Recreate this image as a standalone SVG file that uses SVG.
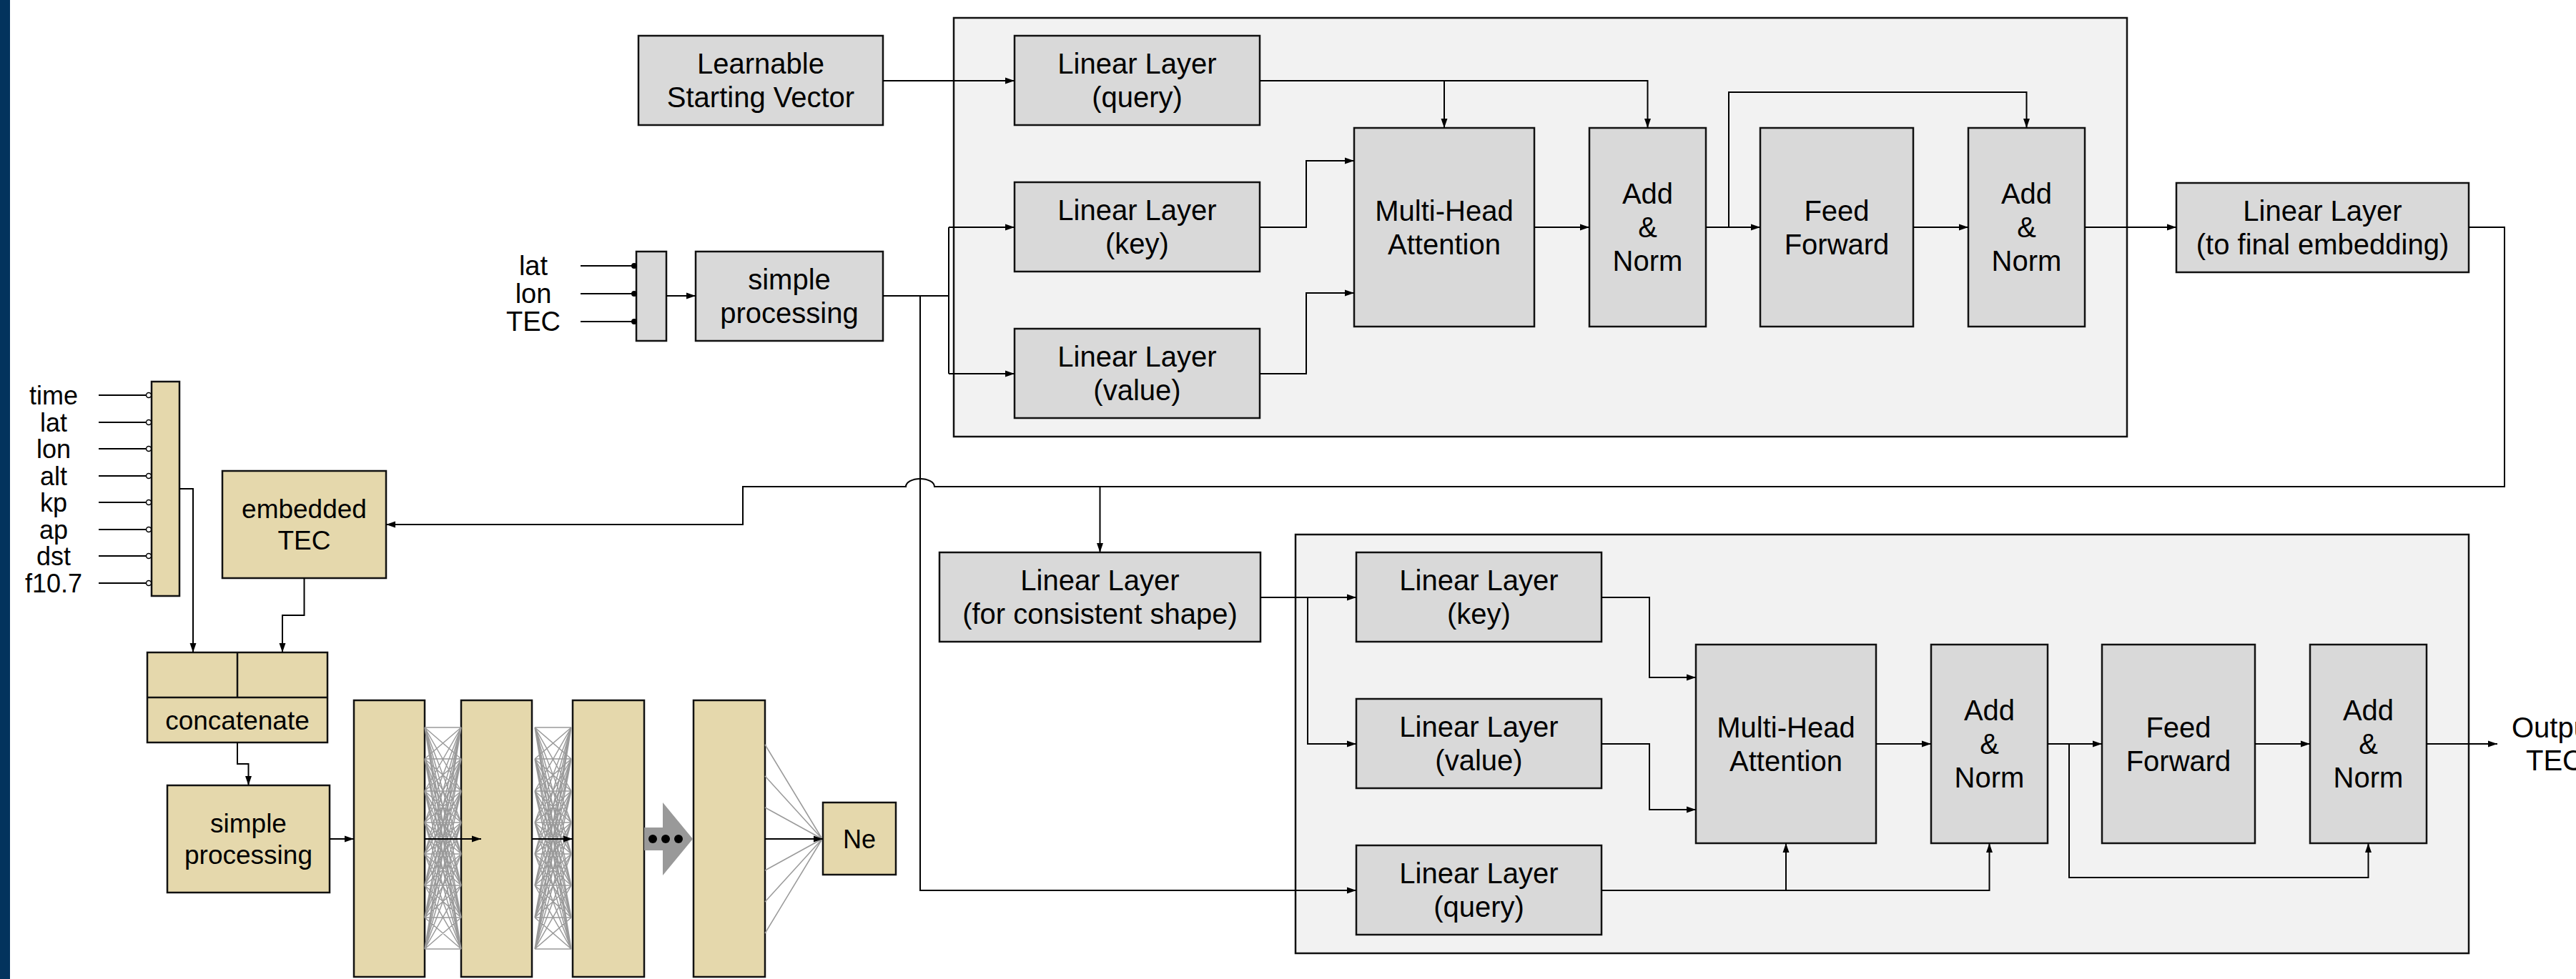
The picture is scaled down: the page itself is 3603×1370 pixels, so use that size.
<svg xmlns="http://www.w3.org/2000/svg" width="3603" height="1370" viewBox="0 0 3603 1370">
<style>
.n rect{stroke:#111;stroke-width:2.5}
.g{fill:#d9d9d9}
.t{fill:#e5d8ac}
.c{fill:#f2f2f2;stroke:#111;stroke-width:2.5}
text{font-family:"Liberation Sans",Arial,sans-serif;fill:#000;text-anchor:middle}
.f40{font-size:40px}
.f38{font-size:38px}
.f37{font-size:37px}
.f36{font-size:36px}
.w{fill:none;stroke:#000;stroke-width:2}
.a{marker-end:url(#ah)}
.m{fill:none;stroke:#9a9a9a;stroke-width:1.5}
</style>
<defs>
<marker id="ah" markerWidth="13" markerHeight="10" refX="13" refY="5" orient="auto" markerUnits="userSpaceOnUse"><path d="M0,0.5 L13,5 L0,9.5 z" fill="#000"/></marker>
<path id="mesh" class="m" d="M0 1018L51 1018M0 1018L51 1062M0 1018L51 1107M0 1018L51 1151M0 1018L51 1195M0 1018L51 1239M0 1018L51 1284M0 1018L51 1328M0 1062L51 1018M0 1062L51 1062M0 1062L51 1107M0 1062L51 1151M0 1062L51 1195M0 1062L51 1239M0 1062L51 1284M0 1062L51 1328M0 1107L51 1018M0 1107L51 1062M0 1107L51 1107M0 1107L51 1151M0 1107L51 1195M0 1107L51 1239M0 1107L51 1284M0 1107L51 1328M0 1151L51 1018M0 1151L51 1062M0 1151L51 1107M0 1151L51 1151M0 1151L51 1195M0 1151L51 1239M0 1151L51 1284M0 1151L51 1328M0 1195L51 1018M0 1195L51 1062M0 1195L51 1107M0 1195L51 1151M0 1195L51 1195M0 1195L51 1239M0 1195L51 1284M0 1195L51 1328M0 1239L51 1018M0 1239L51 1062M0 1239L51 1107M0 1239L51 1151M0 1239L51 1195M0 1239L51 1239M0 1239L51 1284M0 1239L51 1328M0 1284L51 1018M0 1284L51 1062M0 1284L51 1107M0 1284L51 1151M0 1284L51 1195M0 1284L51 1239M0 1284L51 1284M0 1284L51 1328M0 1328L51 1018M0 1328L51 1062M0 1328L51 1107M0 1328L51 1151M0 1328L51 1195M0 1328L51 1239M0 1328L51 1284M0 1328L51 1328"/>
</defs>
<rect x="0" y="0" width="3603" height="1370" fill="#fff"/>
<rect x="0" y="0" width="14" height="1370" fill="#03335d"/>

<g id="containers">
<rect id="encoder-top" class="c" x="1334" y="25" width="1641" height="586"/>
<rect id="encoder-bottom" class="c" x="1812" y="748" width="1641" height="586"/>
</g>

<g id="nodes" class="n">
<g id="learnable"><rect class="g" x="893" y="50" width="342" height="125"/><text class="f40" x="1064"><tspan x="1064" y="103.3">Learnable</tspan><tspan x="1064" y="150.3">Starting Vector</tspan></text></g>
<g id="inbar-top"><rect class="g" x="890" y="352" width="42" height="125"/></g>
<g id="simple-proc-top"><rect class="g" x="973" y="352" width="262" height="125"/><text class="f40"><tspan x="1104" y="405.3">simple</tspan><tspan x="1104" y="452.3">processing</tspan></text></g>
<g id="ll-query-top"><rect class="g" x="1419" y="50" width="343" height="125"/><text class="f40"><tspan x="1590.5" y="103.3">Linear Layer</tspan><tspan x="1590.5" y="150.3">(query)</tspan></text></g>
<g id="ll-key-top"><rect class="g" x="1419" y="255" width="343" height="125"/><text class="f40"><tspan x="1590.5" y="308.3">Linear Layer</tspan><tspan x="1590.5" y="355.3">(key)</tspan></text></g>
<g id="ll-value-top"><rect class="g" x="1419" y="460" width="343" height="125"/><text class="f40"><tspan x="1590.5" y="513.3">Linear Layer</tspan><tspan x="1590.5" y="560.3">(value)</tspan></text></g>
<g id="mha-top"><rect class="g" x="1894" y="179" width="252" height="278"/><text class="f40"><tspan x="2020" y="308.8">Multi-Head</tspan><tspan x="2020" y="355.8">Attention</tspan></text></g>
<g id="addnorm1-top"><rect class="g" x="2223" y="179" width="163" height="278"/><text class="f40"><tspan x="2304.5" y="285.3">Add</tspan><tspan x="2304.5" y="332.3">&amp;</tspan><tspan x="2304.5" y="379.3">Norm</tspan></text></g>
<g id="ff-top"><rect class="g" x="2462" y="179" width="214" height="278"/><text class="f40"><tspan x="2569" y="308.8">Feed</tspan><tspan x="2569" y="355.8">Forward</tspan></text></g>
<g id="addnorm2-top"><rect class="g" x="2753" y="179" width="163" height="278"/><text class="f40"><tspan x="2834.5" y="285.3">Add</tspan><tspan x="2834.5" y="332.3">&amp;</tspan><tspan x="2834.5" y="379.3">Norm</tspan></text></g>
<g id="ll-final"><rect class="g" x="3044" y="256" width="409" height="125"/><text class="f40"><tspan x="3248.5" y="309.3">Linear Layer</tspan><tspan x="3248.5" y="356.3">(to final embedding)</tspan></text></g>

<g id="ll-consistent"><rect class="g" x="1314" y="773" width="449" height="125"/><text class="f40"><tspan x="1538.5" y="826.3">Linear Layer</tspan><tspan x="1538.5" y="873.3">(for consistent shape)</tspan></text></g>
<g id="ll-key-bottom"><rect class="g" x="1897" y="773" width="343" height="125"/><text class="f40"><tspan x="2068.5" y="826.3">Linear Layer</tspan><tspan x="2068.5" y="873.3">(key)</tspan></text></g>
<g id="ll-value-bottom"><rect class="g" x="1897" y="978" width="343" height="125"/><text class="f40"><tspan x="2068.5" y="1031.3">Linear Layer</tspan><tspan x="2068.5" y="1078.3">(value)</tspan></text></g>
<g id="ll-query-bottom"><rect class="g" x="1897" y="1183" width="343" height="125"/><text class="f40"><tspan x="2068.5" y="1236.3">Linear Layer</tspan><tspan x="2068.5" y="1283.3">(query)</tspan></text></g>
<g id="mha-bottom"><rect class="g" x="2372" y="902" width="252" height="278"/><text class="f40"><tspan x="2498" y="1031.8">Multi-Head</tspan><tspan x="2498" y="1078.8">Attention</tspan></text></g>
<g id="addnorm1-bottom"><rect class="g" x="2701" y="902" width="163" height="278"/><text class="f40"><tspan x="2782.5" y="1008.3">Add</tspan><tspan x="2782.5" y="1055.3">&amp;</tspan><tspan x="2782.5" y="1102.3">Norm</tspan></text></g>
<g id="ff-bottom"><rect class="g" x="2940" y="902" width="214" height="278"/><text class="f40"><tspan x="3047" y="1031.8">Feed</tspan><tspan x="3047" y="1078.8">Forward</tspan></text></g>
<g id="addnorm2-bottom"><rect class="g" x="3231" y="902" width="163" height="278"/><text class="f40"><tspan x="3312.5" y="1008.3">Add</tspan><tspan x="3312.5" y="1055.3">&amp;</tspan><tspan x="3312.5" y="1102.3">Norm</tspan></text></g>
<g id="output"><text class="f40"><tspan x="3573" y="1032">Output</tspan><tspan x="3573" y="1078">TEC</tspan></text></g>

<g id="inputs-top"><text class="f38"><tspan x="746" y="385">lat</tspan><tspan x="746" y="424">lon</tspan><tspan x="746" y="463">TEC</tspan></text></g>
<g id="inputs-left"><text class="f36"><tspan x="75" y="566">time</tspan><tspan x="75" y="603.5">lat</tspan><tspan x="75" y="641">lon</tspan><tspan x="75" y="678.5">alt</tspan><tspan x="75" y="716">kp</tspan><tspan x="75" y="753.5">ap</tspan><tspan x="75" y="791">dst</tspan><tspan x="75" y="828.5">f10.7</tspan></text></g>
<g id="inbar-left"><rect class="t" x="212" y="534" width="39" height="300"/></g>
<g id="embedded-tec"><rect class="t" x="311" y="659" width="229" height="150"/><text class="f37"><tspan x="425.5" y="725">embedded</tspan><tspan x="425.5" y="769">TEC</tspan></text></g>
<g id="concat"><rect class="t" x="206" y="913" width="252" height="126"/><path d="M206,976 H458 M332,913 V976" stroke="#111" stroke-width="2.5" fill="none"/><text class="f37" x="332" y="1021">concatenate</text></g>
<g id="simple-proc-left"><rect class="t" x="234" y="1099" width="227" height="150"/><text class="f37"><tspan x="347.5" y="1165">simple</tspan><tspan x="347.5" y="1209">processing</tspan></text></g>
<g id="layer1"><rect class="t" x="495" y="980" width="99" height="387"/></g>
<g id="layer2"><rect class="t" x="645" y="980" width="99" height="387"/></g>
<g id="layer3"><rect class="t" x="801" y="980" width="100" height="387"/></g>
<g id="layer4"><rect class="t" x="970" y="980" width="100" height="387"/></g>
<g id="ne"><rect class="t" x="1151" y="1123" width="102" height="101"/><text class="f36" x="1202" y="1187">Ne</text></g>
</g>

<g id="connectors">
<path class="w a" d="M1235,113 H1419"/>
<path class="w" d="M1235,414 H1327 M1327,318 V523"/>
<path class="w a" d="M1327,318 H1419"/>
<path class="w a" d="M1327,523 H1419"/>
<path class="w a" d="M1287,414 V1246 H1897"/>
<path class="w a" d="M1762,113 H2304.5 V179"/>
<path class="w a" d="M2020,113 V179"/>
<path class="w a" d="M1762,318 H1827 V225 H1894"/>
<path class="w a" d="M1762,523 H1827 V410 H1894"/>
<path class="w a" d="M2146,318 H2223"/>
<path class="w a" d="M2386,318 H2462"/>
<path class="w a" d="M2418,318 V129 H2834.5 V179"/>
<path class="w a" d="M2676,318 H2753"/>
<path class="w a" d="M2916,318 H3044"/>
<path class="w a" d="M3453,318 H3503 V681 H1307 A20,11 0 0 0 1267,681 H1039 V734 H540"/>
<path class="w a" d="M1538.5,681 V773"/>
<path class="w a" d="M1763,836 H1897"/>
<path class="w a" d="M1829,836 V1041 H1897"/>
<path class="w a" d="M2240,836 H2307 V948 H2372"/>
<path class="w a" d="M2240,1041 H2307 V1133 H2372"/>
<path class="w a" d="M2240,1246 H2782.5 V1180"/>
<path class="w a" d="M2498,1246 V1180"/>
<path class="w a" d="M2624,1041 H2701"/>
<path class="w a" d="M2864,1041 H2940"/>
<path class="w a" d="M2894,1041 V1228 H3312.5 V1180"/>
<path class="w a" d="M3154,1041 H3231"/>
<path class="w a" d="M3394,1041 H3493"/>
<path class="w" d="M812,372 H887 M812,411 H887 M812,450 H887"/>
<g fill="#000"><circle cx="887" cy="372" r="4"/><circle cx="887" cy="411" r="4"/><circle cx="887" cy="450" r="4"/></g>
<path class="w a" d="M932,414 H973"/>
<path class="w" d="M138,553 H204 M138,591 H204 M138,628 H204 M138,666 H204 M138,703 H204 M138,741 H204 M138,778 H204 M138,816 H204"/>
<g fill="#fff" stroke="#000" stroke-width="1.5"><circle cx="208" cy="553" r="3.5"/><circle cx="208" cy="591" r="3.5"/><circle cx="208" cy="628" r="3.5"/><circle cx="208" cy="666" r="3.5"/><circle cx="208" cy="703" r="3.5"/><circle cx="208" cy="741" r="3.5"/><circle cx="208" cy="778" r="3.5"/><circle cx="208" cy="816" r="3.5"/></g>
<path class="w a" d="M251,684 H270 V913"/>
<path class="w a" d="M425.5,809 V861 H395 V913"/>
<path class="w a" d="M332,1039 V1069 H347.5 V1099"/>
<use href="#mesh" x="594"/>
<use href="#mesh" x="748"/>
<path class="m" d="M1070,1042 L1150,1174 M1070,1086 L1150,1174 M1070,1130 L1150,1174 M1070,1218 L1150,1174 M1070,1262 L1150,1174 M1070,1306 L1150,1174"/>
<path class="w a" d="M461,1174 H495"/>
<path class="w a" d="M594,1174 H673"/>
<path class="w a" d="M744,1174 H801"/>
<path class="w a" d="M1070,1174 H1151"/>
<polygon points="901,1158 927,1158 927,1123 969,1174 927,1225 927,1190 901,1190" fill="#999"/>
<g fill="#000"><circle cx="913" cy="1174" r="6"/><circle cx="931" cy="1174" r="6"/><circle cx="949" cy="1174" r="6"/></g>
</g>
</svg>
